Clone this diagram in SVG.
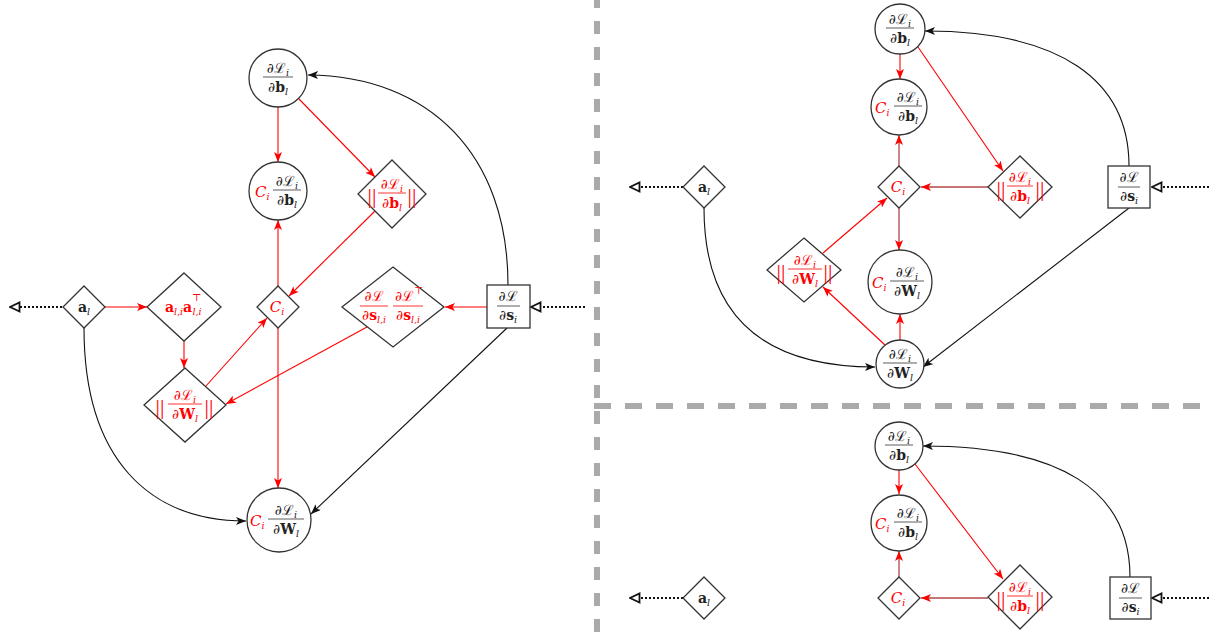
<svg xmlns="http://www.w3.org/2000/svg" width="1209" height="632" viewBox="0 0 1209 632">
<style>
.nd{fill:#fff;stroke:#333;stroke-width:1.3}
.t{font-family:"DejaVu Serif","Liberation Serif",serif;font-size:14px;fill:#222;text-anchor:middle}
.st{text-anchor:start}
.r{fill:#f00}
.s{font-size:9.5px;font-style:italic}
.bf{font-weight:bold}
.it{font-style:italic;font-size:15px}
.bar{font-family:"Liberation Serif",serif;font-size:22px;letter-spacing:0px;text-anchor:middle;fill:#f00}
.fl{stroke:#333;stroke-width:0.8}
.flr{stroke:#f00;stroke-width:0.8}
.er{stroke:#f00;stroke-width:1.1;fill:none;marker-end:url(#ar)}
.eb{stroke:#b04848;stroke-width:1.3;fill:none;marker-end:url(#ar)}
.ek{stroke:#111;stroke-width:1.1;fill:none;marker-end:url(#ak)}
.ed{stroke:#111;stroke-width:2;stroke-dasharray:2 2;fill:none;marker-end:url(#ao)}
.sep{stroke:#aaa;stroke-width:6;fill:none}
</style>
<defs>
<marker id="ar" viewBox="0 0 10 8" refX="10" refY="4" markerWidth="10" markerHeight="8" markerUnits="userSpaceOnUse" orient="auto"><path d="M0,0 L10,4 L0,8 L2.5,4 z" fill="#f00"/></marker>
<marker id="ak" viewBox="0 0 10 8" refX="10" refY="4" markerWidth="10" markerHeight="8" markerUnits="userSpaceOnUse" orient="auto"><path d="M0,0 L10,4 L0,8 L2.5,4 z" fill="#111"/></marker>
<marker id="ao" viewBox="0 0 12 12" refX="11" refY="6" markerWidth="12" markerHeight="12" markerUnits="userSpaceOnUse" orient="auto"><path d="M1.5,1.5 L11,6 L1.5,10.5 z" fill="#fff" stroke="#111" stroke-width="1.8" stroke-dasharray="none"/></marker>
</defs>
<rect width="1209" height="632" fill="#fff"/>

<g id="separators">
<line class="sep" x1="597" y1="0" x2="597" y2="632" stroke-dasharray="13 13" stroke-dashoffset="5"/>
<line class="sep" x1="594" y1="406" x2="1209" y2="406" stroke-dasharray="17 14"/>
</g>

<g id="connectors">
<line class="er" x1="278" y1="107" x2="278" y2="162"/>
<line class="er" x1="299" y1="99" x2="375" y2="177"/>
<line class="er" x1="375" y1="211" x2="289" y2="296"/>
<line class="er" x1="278" y1="286" x2="278" y2="220"/>
<line class="er" x1="278" y1="328" x2="278" y2="488"/>
<line class="er" x1="105" y1="307" x2="147" y2="307"/>
<line class="er" x1="184" y1="341" x2="184" y2="368"/>
<line class="er" x1="206" y1="386" x2="267" y2="318"/>
<line class="er" x1="367" y1="327" x2="226" y2="404"/>
<line class="er" x1="487" y1="307" x2="445" y2="307"/>
<path class="ek" d="M508,285 C508,155 430,76 308,75"/>
<line class="ek" x1="507" y1="328" x2="311" y2="514"/>
<path class="ek" d="M84,328 C84,460 150,521 246,521"/>
<line class="ed" x1="62" y1="307" x2="10" y2="307"/>
<line class="ed" x1="585" y1="307" x2="531" y2="307"/>
<line class="er" x1="900" y1="54" x2="900" y2="79"/>
<line class="er" x1="918" y1="47" x2="1003" y2="171"/>
<line class="eb" x1="988" y1="187" x2="921" y2="187"/>
<line class="eb" x1="899" y1="166" x2="899" y2="135"/>
<line class="eb" x1="899" y1="208" x2="899" y2="250"/>
<line class="er" x1="823" y1="253" x2="887" y2="198"/>
<line class="er" x1="885" y1="345" x2="823" y2="287"/>
<line class="er" x1="900" y1="340" x2="900" y2="314"/>
<path class="ek" d="M1129,166 C1129,80 1060,31 925,31"/>
<line class="ek" x1="1129" y1="208" x2="923" y2="367"/>
<path class="ek" d="M704,208 C704,330 780,367 875,367"/>
<line class="ed" x1="683" y1="187" x2="630" y2="187"/>
<line class="ed" x1="1209" y1="187" x2="1152" y2="187"/>
<line class="er" x1="899" y1="470" x2="899" y2="494"/>
<line class="er" x1="915" y1="464" x2="1003" y2="579"/>
<line class="eb" x1="988" y1="598" x2="921" y2="598"/>
<line class="eb" x1="899" y1="577" x2="899" y2="551"/>
<path class="ek" d="M1130,577 C1130,490 1060,446 923,446"/>
<line class="ed" x1="683" y1="598" x2="630" y2="598"/>
<line class="ed" x1="1209" y1="598" x2="1152" y2="598"/>
</g>

<g id="L_dLdb">
<circle class="nd" cx="278" cy="78" r="29"/>
<text class="t" x="278" y="73">∂ℒ<tspan class="s" dy="3">i</tspan></text>
<line class="fl" x1="263" y1="77" x2="293" y2="77"/>
<text class="t" x="278" y="92">∂<tspan class="bf">b</tspan><tspan class="s" dy="3">l</tspan></text>
</g>
<g id="L_CidLdb">
<circle class="nd" cx="278" cy="191" r="29"/>
<text class="t st r" x="255" y="197"><tspan class="it">C</tspan><tspan class="s" dy="3">i</tspan></text>
<text class="t" x="287" y="186">∂ℒ<tspan class="s" dy="3">i</tspan></text>
<line class="fl" x1="273" y1="190" x2="301" y2="190"/>
<text class="t" x="287" y="205">∂<tspan class="bf">b</tspan><tspan class="s" dy="3">l</tspan></text>
</g>
<g id="L_normdb">
<polygon class="nd" points="392,160 426,194 392,228 358,194"/>
<text class="bar" x="372" y="203">||</text>
<text class="bar" x="412" y="203">||</text>
<text class="t r" x="392" y="189">∂ℒ<tspan class="s" dy="3">i</tspan></text>
<line class="flr" x1="378" y1="193" x2="406" y2="193"/>
<text class="t r" x="392" y="208">∂<tspan class="bf">b</tspan><tspan class="s" dy="3">l</tspan></text>
</g>
<g id="L_Ci">
<polygon class="nd" points="278,286 299,307 278,328 257,307"/>
<text class="t r" x="277" y="312"><tspan class="it">C</tspan><tspan class="s" dy="3">i</tspan></text>
</g>
<g id="L_al">
<polygon class="nd" points="84,286 105,307 84,328 63,307"/>
<text class="t" x="84" y="312"><tspan class="bf">a</tspan><tspan class="s" dy="3">l</tspan></text>
</g>
<g id="L_aaT">
<polygon class="nd" points="184,273 221,307 184,341 147,307"/>
<text class="t st r bf" x="165" y="312">a</text>
<text class="t st r s" x="174" y="315">l,i</text>
<text class="t st r bf" x="183" y="312">a</text>
<text class="t st r" x="192" y="301" style="font-size:10px">⊤</text>
<text class="t st r s" x="192.5" y="315">l,i</text>
</g>
<g id="L_normdW">
<polygon class="nd" points="185,368 226,405 185,442 144,405"/>
<text class="bar" x="160" y="414">||</text>
<text class="bar" x="209" y="414">||</text>
<text class="t r" x="185" y="400">∂ℒ<tspan class="s" dy="3">i</tspan></text>
<line class="flr" x1="168" y1="404" x2="202" y2="404"/>
<text class="t r" x="185" y="419">∂<tspan class="bf">W</tspan><tspan class="s" dy="3">l</tspan></text>
</g>
<g id="L_dsli">
<polygon class="nd" points="393,267 444,307 393,347 342,307"/>
<text class="t r" x="374" y="301">∂ℒ</text>
<line class="flr" x1="360" y1="306" x2="388" y2="306"/>
<text class="t r" x="374" y="320">∂<tspan class="bf">s</tspan><tspan class="s" dy="3">l,i</tspan></text>
<text class="t r" x="409" y="301">∂ℒ<tspan class="s" dy="-7" style="font-style:normal">⊤</tspan></text>
<line class="flr" x1="393" y1="306" x2="423" y2="306"/>
<text class="t r" x="408" y="320">∂<tspan class="bf">s</tspan><tspan class="s" dy="3">l,i</tspan></text>
</g>
<g id="L_box">
<rect class="nd" x="487" y="285" width="43" height="43"/>
<text class="t" x="508" y="301">∂ℒ</text>
<line class="fl" x1="497" y1="306" x2="520" y2="306"/>
<text class="t" x="508" y="320">∂<tspan class="bf">s</tspan><tspan class="s" dy="3">i</tspan></text>
</g>
<g id="L_CidLdW">
<circle class="nd" cx="279" cy="520" r="32"/>
<text class="t st r" x="250" y="526"><tspan class="it">C</tspan><tspan class="s" dy="3">i</tspan></text>
<text class="t" x="286" y="515">∂ℒ<tspan class="s" dy="3">i</tspan></text>
<line class="fl" x1="268" y1="519" x2="304" y2="519"/>
<text class="t" x="286" y="534">∂<tspan class="bf">W</tspan><tspan class="s" dy="3">l</tspan></text>
</g>

<g id="R_dLdb">
<circle class="nd" cx="900" cy="29" r="25"/>
<text class="t" x="900" y="24">∂ℒ<tspan class="s" dy="3">i</tspan></text>
<line class="fl" x1="886" y1="28" x2="914" y2="28"/>
<text class="t" x="900" y="43">∂<tspan class="bf">b</tspan><tspan class="s" dy="3">l</tspan></text>
</g>
<g id="R_CidLdb">
<circle class="nd" cx="899" cy="107" r="28"/>
<text class="t st r" x="875" y="113"><tspan class="it">C</tspan><tspan class="s" dy="3">i</tspan></text>
<text class="t" x="908" y="102">∂ℒ<tspan class="s" dy="3">i</tspan></text>
<line class="fl" x1="894" y1="106" x2="922" y2="106"/>
<text class="t" x="908" y="121">∂<tspan class="bf">b</tspan><tspan class="s" dy="3">l</tspan></text>
</g>
<g id="R_Ci">
<polygon class="nd" points="899,166 920,187 899,208 878,187"/>
<text class="t r" x="898" y="192"><tspan class="it">C</tspan><tspan class="s" dy="3">i</tspan></text>
</g>
<g id="R_normdb">
<polygon class="nd" points="1020,156 1052,187 1020,218 988,187"/>
<text class="bar" x="1001" y="196">||</text>
<text class="bar" x="1040" y="196">||</text>
<text class="t r" x="1020" y="182">∂ℒ<tspan class="s" dy="3">i</tspan></text>
<line class="flr" x1="1007" y1="186" x2="1033" y2="186"/>
<text class="t r" x="1020" y="201">∂<tspan class="bf">b</tspan><tspan class="s" dy="3">l</tspan></text>
</g>
<g id="R_box">
<rect class="nd" x="1108" y="166" width="42" height="42"/>
<text class="t" x="1129" y="182">∂ℒ</text>
<line class="fl" x1="1118" y1="187" x2="1140" y2="187"/>
<text class="t" x="1129" y="201">∂<tspan class="bf">s</tspan><tspan class="s" dy="3">i</tspan></text>
</g>
<g id="R_al">
<polygon class="nd" points="704,166 725,187 704,208 683,187"/>
<text class="t" x="704" y="192"><tspan class="bf">a</tspan><tspan class="s" dy="3">l</tspan></text>
</g>
<g id="R_normdW">
<polygon class="nd" points="804,238 841,270 804,302 767,270"/>
<text class="bar" x="781" y="279">||</text>
<text class="bar" x="828" y="279">||</text>
<text class="t r" x="805" y="265">∂ℒ<tspan class="s" dy="3">i</tspan></text>
<line class="flr" x1="788" y1="269" x2="822" y2="269"/>
<text class="t r" x="805" y="284">∂<tspan class="bf">W</tspan><tspan class="s" dy="3">l</tspan></text>
</g>
<g id="R_CidLdW">
<circle class="nd" cx="900" cy="282" r="32"/>
<text class="t st r" x="872" y="288"><tspan class="it">C</tspan><tspan class="s" dy="3">i</tspan></text>
<text class="t" x="907" y="277">∂ℒ<tspan class="s" dy="3">i</tspan></text>
<line class="fl" x1="890" y1="281" x2="924" y2="281"/>
<text class="t" x="907" y="296">∂<tspan class="bf">W</tspan><tspan class="s" dy="3">l</tspan></text>
</g>
<g id="R_dLdW">
<circle class="nd" cx="900" cy="364" r="24"/>
<text class="t" x="900" y="359">∂ℒ<tspan class="s" dy="3">i</tspan></text>
<line class="fl" x1="883" y1="363" x2="917" y2="363"/>
<text class="t" x="900" y="378">∂<tspan class="bf">W</tspan><tspan class="s" dy="3">l</tspan></text>
</g>

<g id="B_dLdb">
<circle class="nd" cx="899" cy="446" r="24"/>
<text class="t" x="899" y="441">∂ℒ<tspan class="s" dy="3">i</tspan></text>
<line class="fl" x1="885" y1="445" x2="913" y2="445"/>
<text class="t" x="899" y="460">∂<tspan class="bf">b</tspan><tspan class="s" dy="3">l</tspan></text>
</g>
<g id="B_CidLdb">
<circle class="nd" cx="899" cy="523" r="28"/>
<text class="t st r" x="875" y="529"><tspan class="it">C</tspan><tspan class="s" dy="3">i</tspan></text>
<text class="t" x="908" y="518">∂ℒ<tspan class="s" dy="3">i</tspan></text>
<line class="fl" x1="894" y1="522" x2="922" y2="522"/>
<text class="t" x="908" y="537">∂<tspan class="bf">b</tspan><tspan class="s" dy="3">l</tspan></text>
</g>
<g id="B_Ci">
<polygon class="nd" points="899,577 920,598 899,619 878,598"/>
<text class="t r" x="898" y="603"><tspan class="it">C</tspan><tspan class="s" dy="3">i</tspan></text>
</g>
<g id="B_normdb">
<polygon class="nd" points="1020,565 1052,597 1020,629 988,597"/>
<text class="bar" x="1001" y="606">||</text>
<text class="bar" x="1040" y="606">||</text>
<text class="t r" x="1020" y="592">∂ℒ<tspan class="s" dy="3">i</tspan></text>
<line class="flr" x1="1007" y1="596" x2="1033" y2="596"/>
<text class="t r" x="1020" y="611">∂<tspan class="bf">b</tspan><tspan class="s" dy="3">l</tspan></text>
</g>
<g id="B_box">
<rect class="nd" x="1110" y="577" width="41" height="42"/>
<text class="t" x="1130.5" y="593">∂ℒ</text>
<line class="fl" x1="1119" y1="598" x2="1142" y2="598"/>
<text class="t" x="1130.5" y="612">∂<tspan class="bf">s</tspan><tspan class="s" dy="3">i</tspan></text>
</g>
<g id="B_al">
<polygon class="nd" points="704,577 725,598 704,619 683,598"/>
<text class="t" x="704" y="603"><tspan class="bf">a</tspan><tspan class="s" dy="3">l</tspan></text>
</g>
</svg>
